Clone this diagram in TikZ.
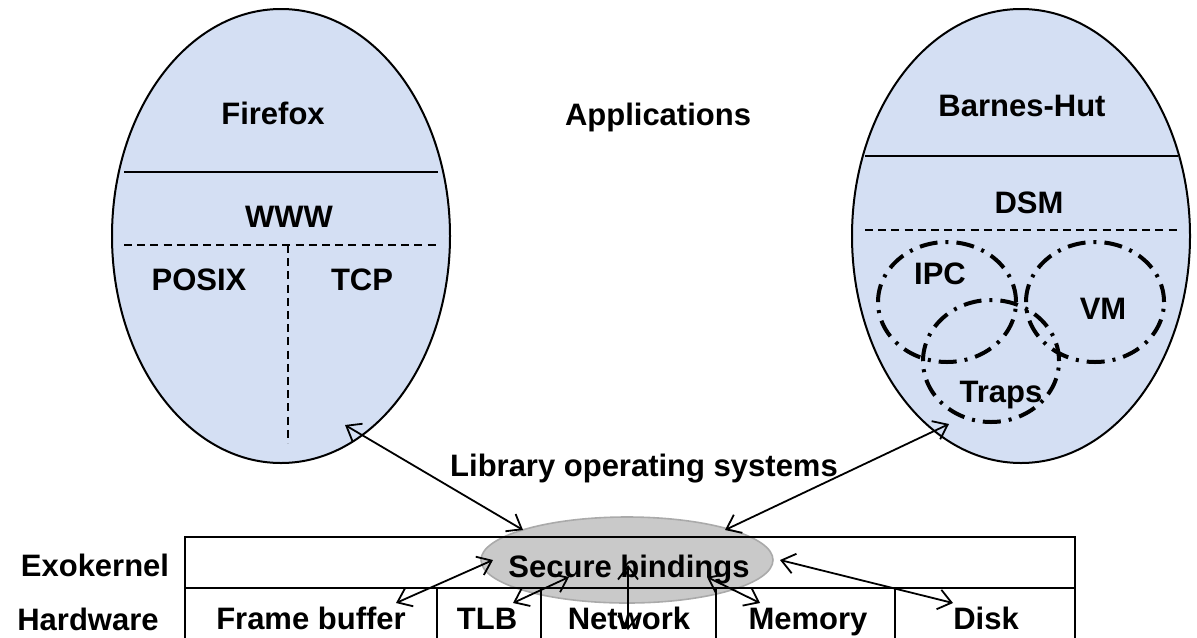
\documentclass[tikz,border=0pt]{standalone}
\usepackage{fontspec}
\setmainfont{Liberation Sans}
\usepackage{xcolor}
\definecolor{appblue}{RGB}{212,223,243}
\definecolor{bindgray}{RGB}{201,201,201}
\definecolor{bindedge}{RGB}{170,170,170}
\usepackage{tikz}
\usetikzlibrary{shapes.geometric,arrows.meta}

\begin{document}
\begin{tikzpicture}[x=0.5pt, y=-0.5pt]
        \tikzset{
          app/.style={ellipse, draw=black, fill=appblue, line width=1pt,
                      minimum width=169pt, minimum height=227pt, inner sep=0pt},
          txt/.style={font=\bfseries\fontsize{15.5}{18}\selectfont,
                      text height=11pt, text depth=0pt, inner sep=0pt},
          split/.style={draw=black, line width=0.9pt},
          splitdash/.style={draw=black, line width=0.9pt, dash pattern=on 4pt off 2.6pt},
          region/.style={ellipse, draw=black, line width=2pt, inner sep=0pt,
                         dash pattern=on 9pt off 4pt on 1.5pt off 4pt,
                         minimum width=69pt, minimum height=60pt},
          box/.style={rectangle, draw=black, line width=1.2pt, inner sep=0pt},
          link/.style={{Straight Barb[length=6.5pt,width=10pt]}-{Straight Barb[length=6.5pt,width=10pt]},
                       draw=black, line width=0.9pt}
        }
        \useasboundingbox (0,0) rectangle (1197,637);
        % Applications
        \node[app] (ffx) at (281,236) {};
        \node[app] (bhut) at (1021,236) {};
        \node[txt] (firefox) at (273,113) {Firefox};
        \node[txt] (www) at (289,216) {WWW};
        \node[txt] (posix) at (199,279) {POSIX};
        \node[txt] (tcp) at (362,279) {TCP};
        \node[txt] (apps) at (658,114) {Applications};
        \node[txt] (barnes) at (1022,105) {Barnes-Hut};
        \node[txt] (dsm) at (1029,202) {DSM};
        \draw[split] (124,172) -- (438,172);
        \draw[splitdash] (124,245) -- (437,245);
        \draw[splitdash] (288,245) -- (288,443);
        \draw[split] (865,156) -- (1178,156);
        \draw[splitdash] (865,230) -- (1178,230);
        % Library OS regions
        \node[region] (ipc) at (947,302) {};
        \node[region] (vm) at (1095,302) {};
        \node[region, minimum width=68pt, minimum height=61pt] (traps) at (991,361) {};
        \node[txt] at (940,273) {IPC};
        \node[txt] at (1103,308) {VM};
        \node[txt] at (1001,391) {Traps};
        \node[txt] (libos) at (644,465) {Library operating systems};
        % Exokernel and hardware
        \node[ellipse, draw=bindedge, fill=bindgray, line width=0.8pt,
              minimum width=146pt, minimum height=43pt] (bind) at (627,560) {};
        \node[box, minimum width=445pt, minimum height=25.5pt] (exo) at (630,562.5) {};
        \foreach \name/\xa/\xb in {fb/185/437, tlb/437/541, net/541/716, mem/716/895, disk/895/1075} {
          \draw[box] (\xa,588) rectangle (\xb,650);
        }
        \node[txt] (secure) at (629,566) {Secure bindings};
        \node[txt] (exolbl) at (95,565) {Exokernel};
        \node[txt] (hwlbl) at (88,619) {Hardware};
        \node[txt] (fb) at (311,618) {Frame buffer};
        \node[txt] (tlb) at (487,618) {TLB};
        \node[txt] (net) at (629,618) {Network};
        \node[txt] (mem) at (808,618) {Memory};
        \node[txt] (disk) at (986,618) {Disk};
        % Connections
        \coordinate (ffx-in) at (345,425);
        \coordinate (bhut-in) at (949,424);
        \coordinate (bind-l) at (523,530);
        \coordinate (bind-r) at (725,530);
        \coordinate (fb-a) at (396,603);
        \coordinate (fb-b) at (493,560);
        \coordinate (tlb-a) at (513,603);
        \coordinate (tlb-b) at (569,577);
        \coordinate (net-a) at (628,630);
        \coordinate (net-b) at (628,565);
        \coordinate (mem-a) at (707,577);
        \coordinate (mem-b) at (760,603);
        \coordinate (disk-a) at (780,560);
        \coordinate (disk-b) at (953,603);
        \draw[link] (ffx-in) -- (bind-l);
        \draw[link] (bind-r) -- (bhut-in);
        \draw[link] (fb-a) -- (fb-b);
        \draw[link] (tlb-a) -- (tlb-b);
        \draw[link] (net-a) -- (net-b);
        \draw[link] (mem-a) -- (mem-b);
        \draw[link] (disk-a) -- (disk-b);
      \end{tikzpicture}
\end{document}
